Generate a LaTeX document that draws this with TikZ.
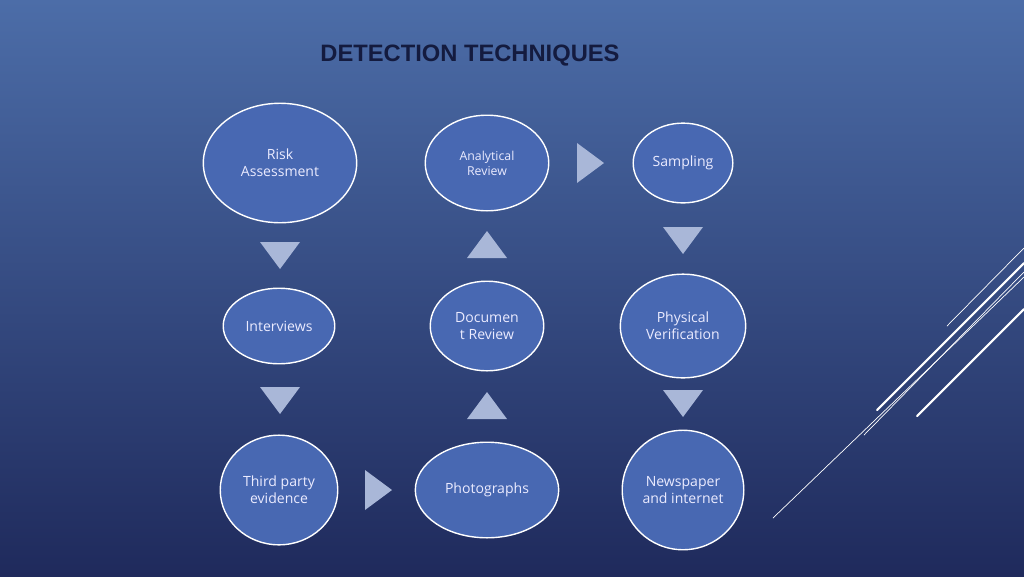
\documentclass[tikz,border=0pt]{standalone}
\usepackage{fontspec}
\setmainfont{Liberation Sans}
\newfontfamily\bubfont{Open Sans}
\usetikzlibrary{shapes.geometric}
\begin{document}
\begin{tikzpicture}[x=0.02cm,y=-0.02cm,
  bub/.style={ellipse,draw=white,line width=0.8pt,fill=bubfill,text=white!92!blue,align=center,font=\bubfont\fontsize{8}{9.8}\selectfont,inner sep=0pt},
  tri/.style={fill=trifill,draw=none},
  deco/.style={draw=white,line cap=round}]
\definecolor{bubfill}{HTML}{4868B2}
\definecolor{trifill}{HTML}{A9B7D8}
\definecolor{bgtop}{HTML}{4C6DA8}
\definecolor{bgbot}{HTML}{1F2A5C}
\definecolor{titlec}{HTML}{141B3F}
\shade[top color=bgtop,bottom color=bgbot] (0,0) rectangle (1024,576);
\useasboundingbox (0,0) rectangle (1024,576);
\node[font=\bfseries\fontsize{13.5}{15}\selectfont,text=titlec] (title) at (470,56) {DETECTION TECHNIQUES};
\node[bub,minimum width=87.3pt,minimum height=68pt] (risk) at (280,163) {Risk\\Assessment};
\node[bub,minimum width=70.3pt,minimum height=54.4pt,font=\bubfont\fontsize{7}{8.5}\selectfont] (anal) at (487,163) {Analytical\\Review};
\node[bub,minimum width=56.7pt,minimum height=45.4pt] (samp) at (683,163) {Sampling};
\node[bub,minimum width=63.5pt,minimum height=43pt] (int) at (279,326) {Interviews};
\node[bub,minimum width=64.6pt,minimum height=51pt] (doc) at (487,326) {Documen\\t Review};
\node[bub,minimum width=71.4pt,minimum height=59pt] (phys) at (683,326) {Physical\\Verification};
\node[bub,minimum width=66.9pt,minimum height=62.4pt] (third) at (279,490) {Third party\\evidence};
\node[bub,minimum width=81.6pt,minimum height=54.4pt] (photo) at (487,490) {Photographs};
\node[bub,minimum width=69.2pt,minimum height=68pt] (news) at (683,490) {Newspaper\\and internet};
% triangles
\fill[tri] (260,242) -- (300,242) -- (280,269) -- cycle;
\fill[tri] (260,387) -- (300,387) -- (280,414) -- cycle;
\fill[tri] (663,227) -- (703,227) -- (683,254) -- cycle;
\fill[tri] (663,390) -- (703,390) -- (683,417) -- cycle;
\fill[tri] (467,258) -- (507,258) -- (487,231) -- cycle;
\fill[tri] (467,419) -- (507,419) -- (487,392) -- cycle;
\fill[tri] (577,143) -- (577,183) -- (604,163) -- cycle;
\fill[tri] (365,470) -- (365,510) -- (392,490) -- cycle;
% decorative lines
\draw[deco,line width=0.4pt] (947,326) -- (1024,248);
\draw[deco,line width=1.2pt] (877,410) -- (1024,263);
\draw[deco,line width=0.4pt] (864,435) -- (1024,272);
\draw[deco,line width=0.4pt] (773,518) -- (1024,277);
\draw[deco,line width=1.2pt] (917,416) -- (1024,309);
\end{tikzpicture}
\end{document}
